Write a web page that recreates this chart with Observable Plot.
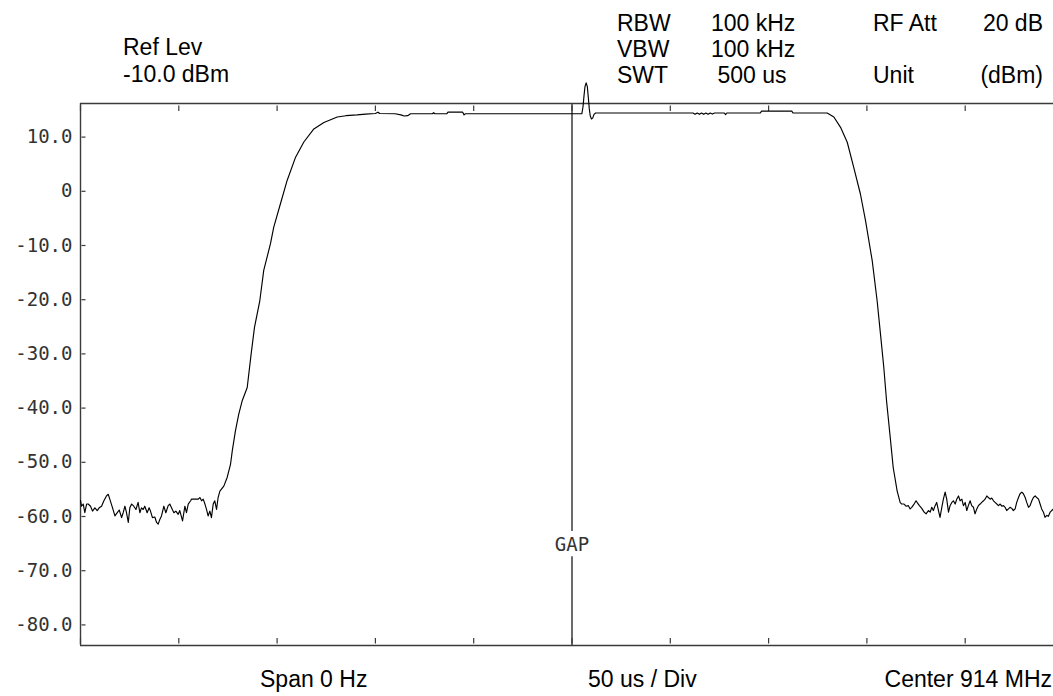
<!DOCTYPE html>
<html><head><meta charset="utf-8">
<script src="https://cdn.jsdelivr.net/npm/d3@7"></script>
<script src="https://cdn.jsdelivr.net/npm/@observablehq/plot@0.6"></script>
<style>
html,body{margin:0;padding:0;background:#fff;overflow:hidden;}
#wrap{position:relative;width:1053px;height:696px;font-family:"Liberation Sans",Arial,sans-serif;font-size:23px;color:#000;}
.t{position:absolute;white-space:pre;line-height:26px;}
#chart{position:absolute;left:0;top:0;}
</style></head><body>
<div id="wrap"><div id="chart"></div></div>
<script>
// ---- header / footer texts ----
const refLabels = ["Ref Lev", "-10.0 dBm"];
const bwLabels = ["RBW", "VBW", "SWT"];
const bwValues = ["100 kHz", "100 kHz", " 500 us"];
const attLabels = ["RF Att", "", "Unit"];
const attValues = ["20 dB", "", "(dBm)"];
const footerLabels = ["Span 0 Hz", "50 us / Div", "Center 914 MHz"];
const gapLabel = "GAP";
const gapTime = 250;

// ---- axis ticks ----
const xTickTimes = [0, 50, 100, 150, 200, 250, 300, 350, 400, 450, 500];
const yTickLevels = [10, 0, -10, -20, -30, -40, -50, -60, -70, -80];
const yDomain = [-83.8, 16.2];
const xDomain = [0, 500];

// ---- trace: [time µs, level dBm] ----
const leftFloor = [[0,-57.0],[0.5,-58.1],[1.4,-57.7],[2.2,-59.3],[3.1,-57.7],[3.9,-57.7],[5.1,-58.1],[6.1,-59.0],[7.3,-58.4],[8.5,-58.9],[9.5,-58.4],[10.7,-58.1],[11.9,-57.1],[13.2,-56.2],[14.1,-55.9],[14.9,-56.8],[16.3,-58.4],[17.5,-59.9],[18.7,-59.3],[19.7,-58.8],[20.9,-60.2],[21.7,-59.3],[22.6,-58.1],[23.4,-59.3],[24.3,-61.1],[25.1,-58.4],[26.0,-57.7],[27.1,-58.1],[28.2,-58.7],[29.3,-57.4],[30.2,-59.3],[31.0,-58.4],[31.9,-58.7],[32.7,-58.1],[33.9,-59.3],[34.9,-58.4],[35.6,-59.0],[36.6,-60.2],[37.8,-60.1],[38.7,-61.1],[39.5,-61.4],[40.4,-60.5],[41.2,-59.9],[42.4,-58.1],[43.4,-59.3],[44.6,-58.0],[45.4,-57.7],[46.3,-58.4],[47.5,-59.3],[48.5,-59.0],[49.7,-59.6],[50.5,-58.9],[51.9,-60.8],[53.1,-58.1],[53.9,-59.3],[54.8,-57.7],[56.0,-57.1],[56.5,-56.8],[58.2,-56.8],[59.9,-56.8],[60.7,-56.5],[61.6,-57.1],[62.4,-56.8],[63.3,-57.7],[64.1,-58.7],[64.9,-59.9],[65.8,-59.0],[66.6,-60.2],[67.5,-57.7],[68.3,-57.1],[69.2,-58.7],[70.0,-56.5],[70.9,-55.3]];
const risingEdge = [[72.9,-54.4],[74.6,-52.8],[76.3,-50.4],[77.2,-47.9],[78.8,-44.2],[80.5,-41.1],[82.2,-38.7],[84.8,-36.2],[86.8,-30.0],[88.5,-25.1],[91.2,-20.2],[93.2,-14.6],[96.6,-9.7],[98.3,-6.6],[101.7,-2.3],[105.1,2.0],[109.4,6.3],[113.6,9.1],[118.7,11.5],[123.8,12.7],[130.6,13.7]];
const plateauLeft = [[135,13.95],[140.7,14.1],[145,14.25],[150,14.35],[151.3,14.6],[152.2,14.35],[160,14.3],[163,14.1],[164.6,13.9],[166.4,13.95],[167.9,14.3],[179,14.3],[179.6,14.5],[180.3,14.3],[186.3,14.3],[186.9,14.6],[194.4,14.6],[195.1,14.1],[195.8,14.3],[250,14.3]];
const burst = [[255.0,14.3],[255.6,15.6],[256.1,17.6],[256.6,19.3],[257.2,20.0],[257.8,19.3],[258.3,17.3],[258.8,15.2],[259.3,13.9],[259.9,13.35],[260.5,13.5],[261.2,14.2],[262.0,14.45]];
const plateauRight = [[311.5,14.45],[312.6,14.2],[313.7,14.45],[314.8,14.2],[315.9,14.45],[317,14.2],[318.1,14.45],[319.2,14.2],[320.3,14.45],[321.4,14.25],[322.5,14.45],[327.5,14.45],[328.1,14.15],[328.7,14.45],[345.8,14.45],[346.4,14.8],[361.8,14.8],[362.4,14.45],[379.8,14.45]];
const fallingEdge = [[383.2,13.7],[386.6,11.8],[390,9.05],[393.3,4.4],[396.7,-0.5],[399.3,-5.4],[402.7,-12.8],[405.2,-20.2],[406.9,-26.3],[408.6,-32.5],[410,-38.7],[411.7,-44.8],[413.4,-51.0],[415.4,-55.3]];
const rightFloor = [[416.9,-57.4],[417.7,-57.7],[418.9,-57.7],[419.9,-58.1],[421.1,-58.0],[422.0,-58.6],[422.8,-58.3],[424.0,-57.7],[425.0,-57.1],[425.7,-57.5],[426.7,-58.0],[427.9,-58.5],[429.1,-59.2],[430.1,-59.5],[431.3,-58.9],[432.2,-59.2],[433.0,-58.3],[433.8,-58.9],[434.7,-58.0],[435.5,-57.4],[436.4,-58.9],[437.2,-60.15],[438.1,-58.3],[438.9,-56.8],[439.8,-55.5],[440.6,-56.8],[441.5,-59.2],[442.3,-58.0],[443.2,-57.4],[444.0,-57.1],[444.9,-57.7],[445.7,-56.8],[446.6,-56.2],[447.4,-57.1],[448.3,-56.8],[449.1,-58.0],[450.0,-57.4],[450.8,-58.9],[451.6,-58.0],[452.5,-57.1],[453.3,-58.0],[454.2,-58.3],[455.0,-59.5],[455.9,-58.6],[456.7,-58.0],[457.6,-57.7],[458.4,-57.4],[459.3,-57.1],[460.1,-56.8],[461.0,-56.2],[461.8,-56.5],[462.7,-56.8],[463.5,-56.6],[464.4,-57.1],[465.2,-57.4],[466.1,-57.7],[466.9,-58.0],[467.8,-57.7],[468.6,-58.1],[469.5,-58.0],[470.3,-58.3],[471.1,-58.9],[472.0,-58.6],[472.8,-58.3],[473.7,-58.5],[474.5,-58.9],[475.4,-58.6],[476.2,-57.4],[477.1,-56.5],[477.9,-55.8],[478.8,-55.5],[479.6,-55.8],[480.5,-56.5],[481.3,-57.4],[482.2,-58.3],[483.0,-58.0],[483.9,-57.1],[484.7,-56.5],[485.6,-56.2],[486.4,-56.5],[487.3,-56.8],[488.1,-57.7],[488.9,-58.6],[489.8,-59.2],[490.6,-60.15],[491.5,-59.8],[492.3,-59.97],[493.2,-59.2],[494.0,-58.9],[494.9,-58.6]];

const trace = [...leftFloor, ...risingEdge, ...plateauLeft, ...burst, ...plateauRight, ...fallingEdge, ...rightFloor]
  .map(([t, v]) => ({t, v}));

const frameColor = "#3a3a3a";
const monoFont = "DejaVu Sans Mono";

const chart = Plot.plot({
  width: 1053, height: 696,
  marginTop: 103, marginBottom: 51, marginLeft: 80, marginRight: 0,
  x: {domain: xDomain, range: [80, 1063], axis: null},
  y: {domain: yDomain, range: [645, 103], label: null},
  style: {background: "white", overflow: "visible"},
  marks: [
    Plot.ruleX([xDomain[0]], {stroke: frameColor, strokeWidth: 1.4}),
    Plot.ruleY(yDomain, {stroke: frameColor, strokeWidth: 1.4}),
    Plot.tickX(xTickTimes, {x: d => d, insetTop: 2.5, insetBottom: 534, stroke: frameColor, strokeWidth: 1.2}),
    Plot.tickX(xTickTimes, {x: d => d, insetTop: 535, insetBottom: 1.5, stroke: frameColor, strokeWidth: 1.2}),
    Plot.tickY(yTickLevels, {y: d => d, insetLeft: 1.5, insetRight: 967.5, stroke: frameColor, strokeWidth: 1.2}),
    Plot.axisY(yTickLevels, {
      label: null, tickSize: 0, tickPadding: 8,
      tickFormat: d => d === 0 ? "0" : d.toFixed(1),
      fontFamily: monoFont, fontSize: 19, fill: "#333"
    }),
    Plot.ruleX([gapTime], {stroke: frameColor, strokeWidth: 1.5}),
    Plot.text([gapLabel], {x: () => gapTime, frameAnchor: "bottom", dy: -95, text: d => d,
      fontFamily: monoFont, fontSize: 19, fill: "white", stroke: "white", strokeWidth: 12}),
    Plot.text([gapLabel], {x: () => gapTime, frameAnchor: "bottom", dy: -95, text: d => d,
      fontFamily: monoFont, fontSize: 19, fill: "#333"}),
    Plot.line(trace, {x: "t", y: "v", stroke: "black", strokeWidth: 1.15})
  ]
});
document.getElementById("chart").appendChild(chart);

// ---- text blocks ----
const wrap = document.getElementById("wrap");
function addText(txt, css) {
  const d = document.createElement("div");
  d.className = "t";
  d.textContent = txt;
  Object.assign(d.style, css);
  wrap.appendChild(d);
}
refLabels.forEach((s, i) => addText(s, {left: "123px", top: (34 + 27 * i) + "px"}));
bwLabels.forEach((s, i) => addText(s, {left: "617px", top: (10 + 26 * i) + "px"}));
bwValues.forEach((s, i) => addText(s, {left: "711px", top: (10 + 26 * i) + "px"}));
attLabels.forEach((s, i) => addText(s, {left: "873px", top: (10 + 26 * i) + "px"}));
attValues.forEach((s, i) => addText(s, {right: "10px", top: (10 + 26 * i) + "px"}));
addText(footerLabels[0], {left: "260px", top: "666px"});
addText(footerLabels[1], {left: "588px", top: "666px"});
addText(footerLabels[2], {right: "1px", top: "666px"});
</script>
</body></html>
